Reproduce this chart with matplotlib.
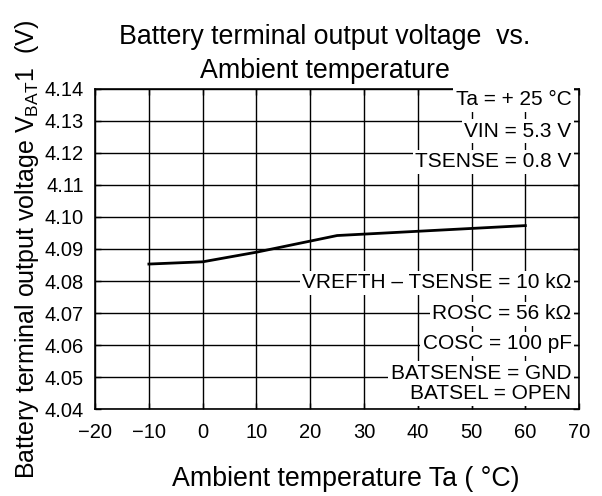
import matplotlib
matplotlib.use("Agg")
import matplotlib.pyplot as plt

plt.rcParams['font.family'] = ['Liberation Sans', 'DejaVu Sans']
plt.rcParams['mathtext.fontset'] = 'custom'
plt.rcParams['mathtext.rm'] = 'Liberation Sans'

# data
temp = [-10, 0, 10, 25, 60]
vbat = [4.0853, 4.0860, 4.0890, 4.0942, 4.0973]

xticks = [-20, -10, 0, 10, 20, 30, 40, 50, 60, 70]
yticks = [4.04, 4.05, 4.06, 4.07, 4.08, 4.09, 4.10, 4.11, 4.12, 4.13, 4.14]

top_notes = ['Ta = + 25 °C', 'VIN = 5.3 V', 'TSENSE = 0.8 V']
top_y = [4.1365, 4.1268, 4.1172]
bottom_notes = ['VREFTH \u2013 TSENSE = 10 k\u03a9', 'ROSC = 56 k\u03a9',
                'COSC = 100 pF', 'BATSENSE = GND', 'BATSEL = OPEN']
bottom_y = [4.0794, 4.0698, 4.0604, 4.0512, 4.0448]

fig = plt.figure(figsize=(6.02, 4.96), dpi=100)
ax = fig.add_axes([0.158, 0.175, 0.804, 0.646])

ax.plot(temp, vbat, color='black', lw=2, zorder=3)

ax.set_xlim(-20, 70)
ax.set_ylim(4.04, 4.14)
ax.set_xticks(xticks)
ax.set_yticks(yticks)
ax.set_yticklabels(['%.2f' % v for v in yticks])
ax.grid(True, color='black', lw=1)
ax.tick_params(direction='in', length=4, width=1, labelsize=14.5, pad=8,
               top=True, right=True, colors='black')
ax.tick_params(axis='x', pad=10)
for s in ax.spines.values():
    s.set_linewidth(1.2)

for txt, y in zip(top_notes + bottom_notes, top_y + bottom_y):
    ax.text(68.6, y, txt, ha='right', va='center', fontsize=15, zorder=4,
            bbox=dict(facecolor='white', edgecolor='none', pad=2.0))

ax.set_title('Battery terminal output voltage  vs.\nAmbient temperature',
             fontsize=19.3, linespacing=1.4, pad=8, x=0.474)
ax.set_xlabel('Ambient temperature Ta ( °C)', fontsize=19.3, labelpad=17)
ax.xaxis.label.set_x(0.5186)
ax.set_ylabel(r'Battery terminal output voltage V$_{\mathrm{BAT}}$1  (V)',
              fontsize=18, labelpad=3)

fig.savefig('out.png', dpi=100)
